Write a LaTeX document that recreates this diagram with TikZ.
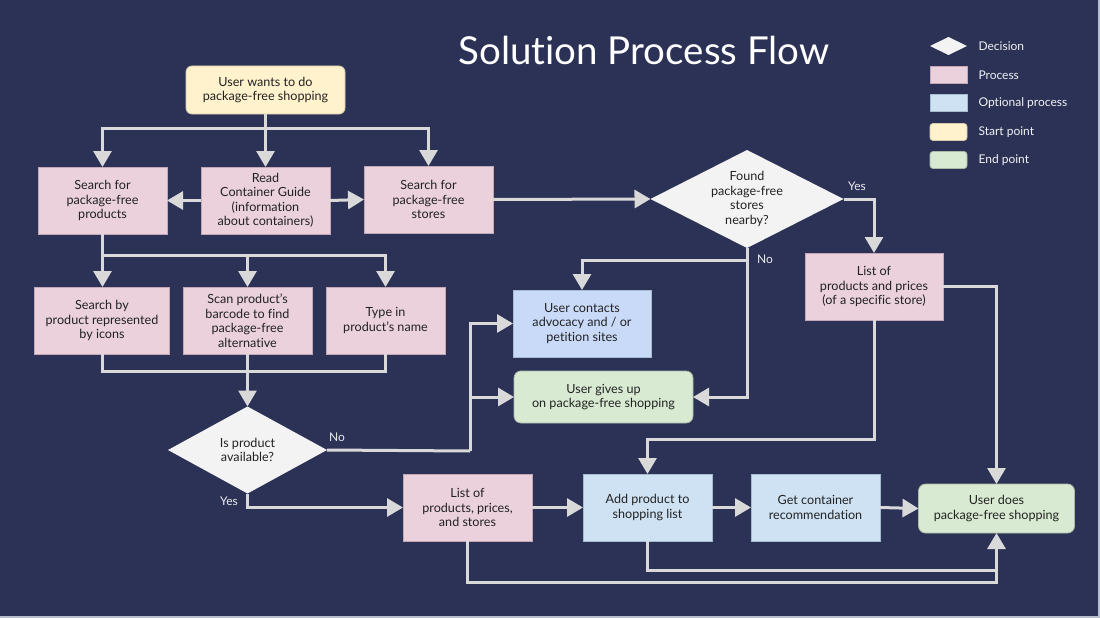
\documentclass[tikz,border=0pt]{standalone}
\usepackage{fontspec}
\setmainfont{Lato}[Ligatures=NoCommon]
\usetikzlibrary{arrows.meta,shapes.geometric}

\definecolor{bg}{HTML}{2B3256}
\definecolor{procfill}{HTML}{EAD1DC}
\definecolor{procdraw}{HTML}{C2A8B6}
\definecolor{optfill}{HTML}{CFE2F3}
\definecolor{optdraw}{HTML}{A7BBD0}
\definecolor{optfillb}{HTML}{C9DAF8}
\definecolor{startfill}{HTML}{FFF2CC}
\definecolor{startdraw}{HTML}{D6CBA8}
\definecolor{endfill}{HTML}{D9EAD3}
\definecolor{enddraw}{HTML}{A9B9A3}
\definecolor{decfill}{HTML}{F3F3F3}
\definecolor{wire}{HTML}{D9D9D9}
\definecolor{ink}{HTML}{222222}
\definecolor{edge}{HTML}{B9BECC}

\tikzset{
  box/.style={inner sep=0pt, outer sep=0pt, align=center, text=ink,
    font=\fontsize{12.6}{14.5}\selectfont, line width=0.8pt},
  proc/.style={box, fill=procfill, draw=procdraw},
  optproc/.style={box, fill=optfill, draw=optdraw},
  startpt/.style={box, fill=startfill, draw=startdraw, rounded corners=6pt},
  endpt/.style={box, fill=endfill, draw=enddraw, rounded corners=7pt},
  decision/.style={diamond, fill=decfill, inner sep=0pt, outer sep=0pt,
    shape aspect=2},
  dectext/.style={align=center, text=ink, font=\fontsize{12.6}{14.5}\selectfont},
  line/.style={draw=wire, line width=3pt},
  arr/.style={line, -{Triangle[length=16pt,width=18pt]}},
  tag/.style={text=white!92!black, font=\fontsize{12}{13}\selectfont},
  legtext/.style={text=white!95!black, anchor=west, font=\fontsize{12}{13}\selectfont},
}

\begin{document}
\begin{tikzpicture}[x=1pt,y=-1pt]
  % canvas
  \fill[bg] (0,0) rectangle (1100,618);
  \fill[edge] (0,616) rectangle (1100,618);
  \fill[edge] (1097.5,0) rectangle (1100,618);
  \useasboundingbox (0,0) rectangle (1100,618);

  % title
  \node[text=white, font=\fontsize{38.5}{42}\selectfont] (title) at (644,50) {Solution Process Flow};

  % legend
  \node[decision, minimum width=37pt, minimum height=18pt] (lgdec) at (948.5,46) {};
  \node[legtext] (lgdect) at (975,46) {Decision};
  \node[proc, minimum width=37pt, minimum height=17pt] (lgproc) at (948.5,75) {};
  \node[legtext] (lgproct) at (975,75) {Process};
  \node[optproc, minimum width=37pt, minimum height=17pt] (lgopt) at (948.5,103) {};
  \node[legtext] (lgoptt) at (975,103) {Optional process};
  \node[startpt, rounded corners=3pt, minimum width=37pt, minimum height=17pt] (lgstart) at (948.5,132) {};
  \node[legtext] (lgstartt) at (975,132) {Start point};
  \node[endpt, rounded corners=3pt, minimum width=37pt, minimum height=17pt] (lgend) at (948.5,160) {};
  \node[legtext] (lgendt) at (975,160) {End point};

  % start
  \node[startpt, minimum width=159pt, minimum height=48pt] (start) at (265.5,90)
    {User wants to do\\package-free shopping};

  % first row
  \node[proc, minimum width=129pt, minimum height=67pt] (sp) at (102.5,200.5)
    {Search for\\package-free\\products};
  \node[proc, minimum width=129pt, minimum height=67pt] (rg) at (265.5,200.5)
    {Read\\Container Guide\\(information\\about containers)};
  \node[proc, minimum width=129pt, minimum height=67pt] (ss) at (428.5,199.5)
    {Search for\\package-free\\stores};

  % search methods
  \node[proc, minimum width=135pt, minimum height=67pt] (sbi) at (102,320.5)
    {Search by\\product represented\\by icons};
  \node[proc, minimum width=129pt, minimum height=67pt] (scan) at (247.5,320.5)
    {Scan product’s\\barcode to find\\package-free\\alternative};
  \node[proc, minimum width=119pt, minimum height=67pt] (type) at (385.5,320.5)
    {Type in\\product’s name};

  % decisions
  \node[decision, minimum width=193pt, minimum height=98pt,
    label={[dectext]center:Found\\package-free\\stores\\nearby?}] (d1) at (747,199) {};
  \node[decision, minimum width=159pt, minimum height=87pt,
    label={[dectext]center:Is product\\available?}] (d2) at (247.5,450) {};

  % right-hand side
  \node[proc, minimum width=138pt, minimum height=67pt] (lst) at (874,286.5)
    {List of\\products and prices\\(of a specific store)};
  \node[box, fill=optfillb, draw=optdraw, minimum width=138pt, minimum height=67pt] (uc) at (582,323.5)
    {User contacts\\advocacy and / or\\petition sites};
  \node[endpt, minimum width=179pt, minimum height=52pt] (ug) at (603.5,397)
    {User gives up\\on package-free shopping};

  % bottom row
  \node[proc, minimum width=129pt, minimum height=67pt] (lpps) at (467.5,507.5)
    {List of\\products, prices,\\and stores};
  \node[optproc, minimum width=129pt, minimum height=67pt] (add) at (647.5,507.5)
    {Add product to\\shopping list};
  \node[optproc, minimum width=129pt, minimum height=67pt] (gcr) at (815.5,507.5)
    {Get container\\recommendation};
  \node[endpt, minimum width=156pt, minimum height=49pt] (udo) at (996.5,508.5)
    {User does\\package-free shopping};

  % junction points
  \coordinate (b1) at (265.5,128);
  \coordinate (b2) at (102.5,255);
  \coordinate (j2) at (247.5,371);
  \coordinate (n1) at (747,260);
  \coordinate (n2) at (470,451);
  \coordinate (k1) at (647.5,439);
  \coordinate (c1) at (996.5,570);
  \coordinate (c2) at (996.5,582);

  % connectors: start to first row
  \draw[line] (start.south) -- (b1);
  \draw[arr] (b1) -- (rg.north);
  \draw[arr] (b1) -| (sp.north);
  \draw[arr] (b1) -| (ss.north);
  \draw[arr] (rg.west) -- (sp.east);
  \draw[arr] (rg.east) -- (ss.east -| ss.west);

  % search for products branches
  \draw[line] (sp.south) -- (b2);
  \draw[arr] (b2) -- (b2 |- sbi.north);
  \draw[arr] (b2) -| (scan.north);
  \draw[arr] (b2) -| (type.north);
  \draw[line] (sbi.south) |- (j2);
  \draw[line] (type.south) |- (j2);
  \draw[arr] (scan.south) -- (d2.north);

  % product availability
  \draw[line] (d2.east) -- (n2);
  \draw[arr] (n2) |- (uc.west);
  \draw[arr] (n2 |- ug.west) -- (ug.west);
  \draw[arr] (d2.south) |- (lpps.west);
  \node[tag] (no2) at (337,437) {No};
  \node[tag] (yes2) at (229,501) {Yes};

  % store search
  \draw[arr] (ss.east) -- (d1.west);
  \draw[arr] (d1.east) -| (lst.north);
  \draw[line] (d1.south) -- (n1);
  \draw[arr] (n1) -| (uc.north);
  \draw[arr] (n1) |- (ug.east);
  \node[tag] (yes1) at (857,186) {Yes};
  \node[tag] (no1) at (765,259) {No};

  % toward shopping
  \draw[arr] (lst.south) |- (k1) -- (add.north);
  \draw[arr] (lst.east) -| (udo.north);
  \draw[arr] (lpps.east) -- (add.west);
  \draw[arr] (add.east) -- (gcr.west);
  \draw[arr] (gcr.east) -- (udo.west);
  \draw[line] (add.south) |- (c1);
  \draw[arr] (lpps.south) |- (c2) -- (udo.south);
\end{tikzpicture}
\end{document}
